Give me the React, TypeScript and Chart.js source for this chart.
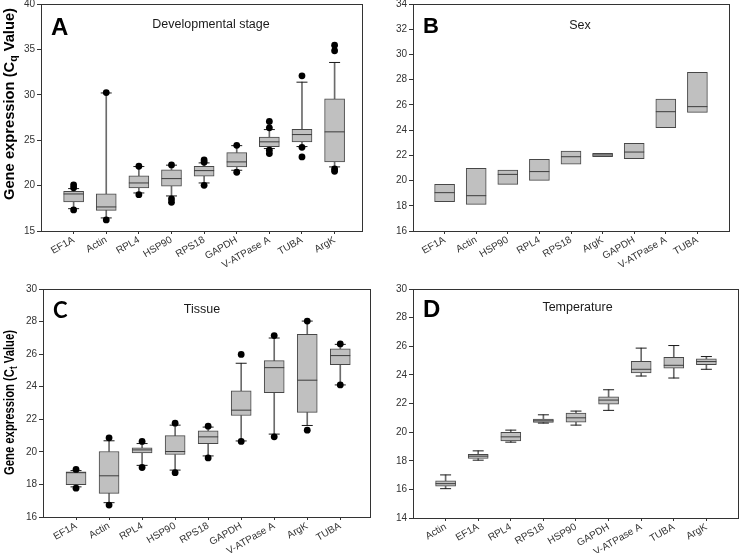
import React, { useEffect, useRef } from "react";
import { Chart, registerables } from "chart.js";

Chart.register(...registerables);

const FONT = "'Liberation Sans', Arial, Helvetica, sans-serif";

// ---------- Panel A: Developmental stage ----------
const catsA = ["EF1A", "Actin", "RPL4", "HSP90", "RPS18", "GAPDH", "V-ATPase A", "TUBA", "ArgK"];
const q1A = [18.2, 17.28, 19.74, 19.93, 21.03, 22.06, 24.3, 24.82, 22.61];
const medA = [19.08, 17.65, 20.29, 20.77, 21.65, 22.61, 24.82, 25.62, 25.92];
const q3A = [19.37, 19.08, 21.07, 21.73, 22.13, 23.64, 25.33, 26.21, 29.56];
const wLoA = [17.46, 16.44, 19.19, 18.86, 20.29, 21.69, 24.08, 24.3, 22.06];
const wHiA = [19.67, 30.2, 22.1, 22.25, 22.5, 24.4, 26.17, 31.39, 33.56];
const outA = [
  [20.07, 19.75, 17.32],
  [30.25, 16.22],
  [22.13, 19.0],
  [22.28, 18.53, 18.16],
  [22.83, 22.57, 20.03],
  [24.44, 21.47],
  [27.06, 26.36, 23.9, 23.53],
  [32.09, 24.22, 23.16],
  [35.47, 34.85, 21.84, 21.58],
];

// ---------- Panel B: Sex ----------
const catsB = ["EF1A", "Actin", "HSP90", "RPL4", "RPS18", "ArgK", "GAPDH", "V-ATPase A", "TUBA"];
const q1B = [18.33, 18.11, 19.7, 20.02, 21.29, 21.89, 21.74, 24.19, 25.41];
const medB = [19.04, 18.8, 20.49, 20.71, 21.89, 22.03, 22.26, 25.46, 25.86];
const q3B = [19.7, 20.97, 20.84, 21.68, 22.34, 22.16, 22.95, 26.47, 28.58];

// ---------- Panel C: Tissue ----------
const catsC = ["EF1A", "Actin", "RPL4", "HSP90", "RPS18", "GAPDH", "V-ATPase A", "ArgK", "TUBA"];
const q1C = [17.98, 17.45, 19.94, 19.84, 20.51, 22.23, 23.63, 22.42, 25.36];
const medC = [18.72, 18.53, 20.12, 20.02, 20.92, 22.56, 25.17, 24.4, 25.91];
const q3C = [18.78, 20.02, 20.25, 21.0, 21.29, 23.74, 25.6, 27.21, 26.32];
const wLoC = [17.85, 16.88, 19.17, 18.88, 19.75, 20.67, 21.09, 21.62, 24.11];
const wHiC = [18.85, 20.68, 20.51, 21.64, 21.52, 25.44, 26.99, 28.03, 26.6];
const outC = [
  [18.92, 17.77],
  [20.86, 16.73],
  [20.64, 19.04],
  [21.76, 18.72],
  [21.58, 19.63],
  [25.98, 20.64],
  [27.14, 20.92],
  [28.03, 21.33],
  [26.63, 24.11],
];

// ---------- Panel D: Temperature ----------
const catsD = ["Actin", "EF1A", "RPL4", "RPS18", "HSP90", "GAPDH", "V-ATPase A", "TUBA", "ArgK"];
const q1D = [16.22, 18.16, 19.39, 20.68, 20.7, 21.96, 24.13, 24.46, 24.72];
const medD = [16.4, 18.32, 19.67, 20.79, 21.0, 22.24, 24.39, 24.67, 24.93];
const q3D = [16.59, 18.44, 19.98, 20.91, 21.33, 22.47, 24.95, 25.23, 25.12];
const wLoD = [16.05, 18.04, 19.3, 20.63, 20.49, 21.52, 23.92, 23.78, 24.39];
const wHiD = [17.01, 18.69, 20.14, 21.21, 21.47, 22.96, 25.87, 26.05, 25.28];

type Panel = {
  left: number; top: number; width: number; height: number;
  area: { l: number; t: number; r: number; b: number };
  cats: string[]; q1: number[]; med: number[]; q3: number[];
  wLo?: number[]; wHi?: number[]; out?: number[][];
  yMin: number; yMax: number; yStep: number; xMax: number;
  letter: string; letterFont: string; letterX: number; letterY: number;
  title: string; titleX: number; titleY: number;
  yTitle?: { pre: string; sub: string; post: string; x: number; y: number; len: number };
};

const panels: Panel[] = [
  {
    left: 0, top: 0, width: 370, height: 290,
    area: { l: 41, t: 4, r: 362, b: 231 },
    cats: catsA, q1: q1A, med: medA, q3: q3A, wLo: wLoA, wHi: wHiA, out: outA,
    yMin: 15, yMax: 40, yStep: 5, xMax: 8.84,
    letter: "A", letterFont: `bold 24px ${FONT}`, letterX: 51, letterY: 35,
    title: "Developmental stage", titleX: 211, titleY: 28,
    yTitle: { pre: "Gene expression (C", sub: "q", post: " Value)", x: 14, y: 104, len: 192 },
  },
  {
    left: 370, top: 0, width: 370, height: 290,
    area: { l: 43, t: 4, r: 359, b: 231 },
    cats: catsB, q1: q1B, med: medB, q3: q3B,
    yMin: 16, yMax: 34, yStep: 2, xMax: 9,
    letter: "B", letterFont: `bold 22px ${FONT}`, letterX: 53, letterY: 33,
    title: "Sex", titleX: 210, titleY: 29,
  },
  {
    left: 0, top: 270, width: 374, height: 283,
    area: { l: 43, t: 19, r: 370, b: 247 },
    cats: catsC, q1: q1C, med: medC, q3: q3C, wLo: wLoC, wHi: wHiC, out: outC,
    yMin: 16, yMax: 30, yStep: 2, xMax: 8.9,
    letter: "C", letterFont: `bold 22px Lato, ${FONT}`, letterX: 53, letterY: 48,
    title: "Tissue", titleX: 202, titleY: 43,
    yTitle: { pre: "Gene expression (C", sub: "t", post: " Value)", x: 14, y: 132.5, len: 145 },
  },
  {
    left: 370, top: 270, width: 370, height: 283,
    area: { l: 43, t: 19, r: 368, b: 248 },
    cats: catsD, q1: q1D, med: medD, q3: q3D, wLo: wLoD, wHi: wHiD,
    yMin: 14, yMax: 30, yStep: 2, xMax: 8.97,
    letter: "D", letterFont: `bold 24px ${FONT}`, letterX: 53, letterY: 47,
    title: "Temperature", titleX: 207.5, titleY: 41,
  },
];

const overlayPlugin = {
  id: "overlay",
  afterDraw(chart: any, _args: any, opts: any) {
    const p: Panel = opts.panel;
    const ctx = chart.ctx;
    const a = chart.chartArea;
    ctx.save();
    // frame
    ctx.strokeStyle = "#333";
    ctx.lineWidth = 1;
    ctx.strokeRect(Math.round(a.left) + 0.5, Math.round(a.top) + 0.5, Math.round(a.right - a.left), Math.round(a.bottom - a.top));
    // letter
    ctx.fillStyle = "#000";
    ctx.font = p.letterFont;
    ctx.textAlign = "left";
    ctx.textBaseline = "alphabetic";
    ctx.fillText(p.letter, p.letterX, p.letterY);
    // title
    ctx.font = `12.5px ${FONT}`;
    ctx.fillStyle = "#1a1a1a";
    ctx.textAlign = "center";
    ctx.fillText(p.title, p.titleX, p.titleY);
    // y title
    if (p.yTitle) {
      const t = p.yTitle;
      ctx.save();
      ctx.translate(t.x, t.y);
      ctx.rotate(-Math.PI / 2);
      ctx.textAlign = "left";
      const big = `bold 14px ${FONT}`;
      const small = `bold 10px ${FONT}`;
      ctx.font = big;
      const w1 = ctx.measureText(t.pre).width;
      const w3 = ctx.measureText(t.post).width;
      ctx.font = small;
      const w2 = ctx.measureText(t.sub).width;
      const total = w1 + w2 + w3;
      ctx.scale(t.len / total, 1);
      let xx = -total / 2;
      ctx.fillStyle = "#000";
      ctx.font = big;
      ctx.fillText(t.pre, xx, 0);
      xx += w1;
      ctx.font = small;
      ctx.fillText(t.sub, xx, 3);
      xx += w2;
      ctx.font = big;
      ctx.fillText(t.post, xx, 0);
      ctx.restore();
    }
    ctx.restore();
  },
};

function buildConfig(p: Panel): any {
  const idx = p.cats.map((_, i) => i);
  const datasets: any[] = [];
  if (p.wLo && p.wHi) {
    const wLo = p.wLo, wHi = p.wHi;
    datasets.push({
      type: "bar", order: 6, grouped: false, barThickness: 1,
      data: idx.map((i) => ({ x: i, y: [wLo[i], p.q1[i]] })),
      backgroundColor: "#6b6b6b", borderWidth: 0,
    });
    datasets.push({
      type: "bar", order: 6, grouped: false, barThickness: 1,
      data: idx.map((i) => ({ x: i, y: [p.q3[i], wHi[i]] })),
      backgroundColor: "#6b6b6b", borderWidth: 0,
    });
  }
  datasets.push({
    type: "bar", order: 5, grouped: false, barThickness: 20,
    data: idx.map((i) => ({ x: i, y: [p.q1[i], p.q3[i]] })),
    backgroundColor: "#c0c0c0", borderColor: "#474747", borderWidth: 1, borderSkipped: false,
  });
  datasets.push({
    type: "scatter", order: 4,
    data: idx.map((i) => ({ x: i, y: p.med[i] })),
    pointStyle: "line", pointRadius: 10, pointBorderColor: "#3c3c3c", pointBorderWidth: 1,
  });
  if (p.wLo && p.wHi) {
    const wLo = p.wLo, wHi = p.wHi;
    datasets.push({
      type: "scatter", order: 3,
      data: idx.flatMap((i) => [{ x: i, y: wLo[i] }, { x: i, y: wHi[i] }]),
      pointStyle: "line", pointRadius: 5.5, pointBorderColor: "#1a1a1a", pointBorderWidth: 1,
    });
  }
  if (p.out) {
    const out = p.out;
    datasets.push({
      type: "scatter", order: 1,
      data: idx.flatMap((i) => out[i].map((v) => ({ x: i, y: v }))),
      pointStyle: "circle", pointRadius: 3.4, pointBackgroundColor: "#000", pointBorderWidth: 0,
    });
  }
  const xH = p.height - p.area.b;
  return {
    type: "bar",
    data: { datasets },
    options: {
      responsive: false,
      animation: false,
      devicePixelRatio: 1,
      layout: {
        autoPadding: false,
        padding: { left: 0, top: p.area.t, right: p.width - p.area.r, bottom: 0 },
      },
      plugins: {
        legend: { display: false },
        tooltip: { enabled: false },
        overlay: { panel: p },
      },
      scales: {
        x: {
          type: "linear", min: -1, max: p.xMax, offset: false,
          afterBuildTicks: (s: any) => { s.ticks = idx.map((v) => ({ value: v })); },
          afterFit: (s: any) => { s.height = xH; s.paddingLeft = 0; s.paddingRight = 0; },
          ticks: {
            autoSkip: false, maxRotation: 30, minRotation: 30, padding: 0,
            font: { family: FONT, size: 10 }, color: "#333",
            callback: (v: any) => p.cats[v],
          },
          grid: { drawOnChartArea: false, drawTicks: true, tickLength: 3, color: "#333", offset: false },
          border: { display: true, color: "#333", width: 1 },
        },
        y: {
          type: "linear", min: p.yMin, max: p.yMax,
          afterFit: (s: any) => { s.width = p.area.l; s.paddingTop = 0; s.paddingBottom = 0; },
          ticks: { stepSize: p.yStep, padding: 2, font: { family: FONT, size: 10 }, color: "#333" },
          grid: { drawOnChartArea: false, drawTicks: true, tickLength: 4, color: "#333" },
          border: { display: true, color: "#333", width: 1 },
        },
      },
    },
    plugins: [overlayPlugin],
  };
}

function PanelChart({ p }: { p: Panel }) {
  const ref = useRef<HTMLCanvasElement | null>(null);
  useEffect(() => {
    if (!ref.current) return;
    const chart = new Chart(ref.current, buildConfig(p));
    return () => chart.destroy();
  }, [p]);
  return (
    <canvas
      ref={ref}
      width={p.width}
      height={p.height}
      style={{ position: "absolute", left: p.left, top: p.top, width: p.width, height: p.height }}
    />
  );
}

export default function App() {
  return (
    <div style={{ position: "absolute", left: 0, top: 0, width: 740, height: 553, background: "#fff" }}>
      {panels.map((p) => (
        <PanelChart key={p.letter} p={p} />
      ))}
    </div>
  );
}
